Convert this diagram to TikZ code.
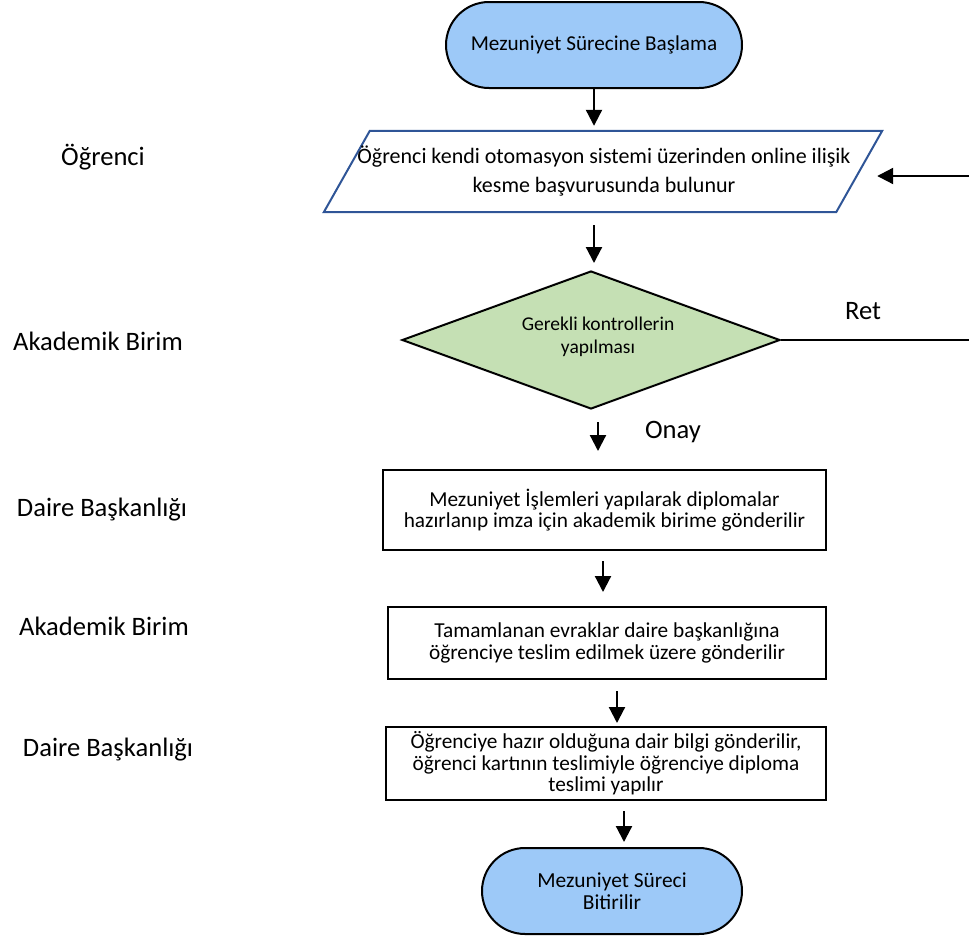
\documentclass[tikz,border=0pt]{standalone}
\usepackage{fontspec}
\setmainfont{Carlito}
\usetikzlibrary{shapes.geometric,arrows.meta,calc}
\definecolor{termblue}{RGB}{157,201,248}
\definecolor{decgreen}{RGB}{197,224,180}
\definecolor{parablue}{RGB}{47,85,151}
\tikzset{
  lbl/.style={font=\fontsize{26.6}{31}\selectfont, inner sep=0pt},
  term/.style={draw=black, line width=2pt, fill=termblue, rectangle, rounded corners=43pt, minimum height=86pt, align=center, inner sep=0pt},
  procbox/.style={draw=black, line width=2pt, fill=white, rectangle, align=center, inner sep=0pt},
  decbox/.style={draw=black, line width=2pt, fill=decgreen, diamond, align=center, inner sep=0pt, minimum width=378pt, minimum height=138pt},
  boxtext/.style={font=\fontsize{21.3}{21.5}\selectfont},
  arr/.style={line width=2.2pt, -{Triangle[width=16pt,length=16pt]}},
  plain/.style={line width=2pt}
}
\begin{document}
\begin{tikzpicture}[x=1pt,y=-1pt]
\useasboundingbox (0,0) rectangle (969,940);
% start
\node[term, minimum width=296pt, font=\fontsize{21.2}{24}\selectfont] (start) at (594,45) {Mezuniyet Sürecine Başlama};
% parallelogram
\node[draw=none, minimum width=558pt, minimum height=81pt, inner sep=0pt] (para) at (603,171.5) {};
\draw[parablue, line width=2pt, fill=white] ($(para.north west)+(46,0)$) -- (para.north east) -- ($(para.south east)+(-46,0)$) -- (para.south west) -- cycle;
\node[align=center, font=\fontsize{22}{28.5}\selectfont] (paratext) at (604,171) {Öğrenci kendi otomasyon sistemi üzerinden online ilişik\\kesme başvurusunda bulunur};
% diamond
\node[decbox] (dia) at (591,340) {};
\node[align=center, font=\fontsize{19.5}{23}\selectfont] (diatext) at (598,337) {Gerekli kontrollerin\\yapılması};
% process boxes
\node[procbox, boxtext, minimum width=443pt, minimum height=80pt] (b1) at (604.5,510) {Mezuniyet İşlemleri yapılarak diplomalar\\hazırlanıp imza için akademik birime gönderilir};
\node[procbox, boxtext, minimum width=438pt, minimum height=72pt] (b2) at (607,643) {Tamamlanan evraklar daire başkanlığına\\öğrenciye teslim edilmek üzere gönderilir};
\node[procbox, boxtext, minimum width=440pt, minimum height=73pt] (b3) at (606,763.5) {Öğrenciye hazır olduğuna dair bilgi gönderilir,\\öğrenci kartının teslimiyle öğrenciye diploma\\teslimi yapılır};
% end
\node[term, minimum width=260pt, font=\fontsize{21.4}{21.5}\selectfont] (end) at (612,891) {Mezuniyet Süreci\\Bitirilir};
% left labels
\node[lbl] (l1) at (103,157) {Öğrenci};
\node[lbl] (l2) at (98,341) {Akademik Birim};
\node[lbl] (l3) at (102,510) {Daire Başkanlığı};
\node[lbl] (l4) at (104,626) {Akademik Birim};
\node[lbl] (l5) at (108,750) {Daire Başkanlığı};
% branch labels
\node[lbl] (ret) at (863,311) {Ret};
\node[lbl] (onay) at (673,432) {Onay};
% free ends
\coordinate (retend) at (969,340);
\coordinate (backin) at (969,176);
% connectors
\draw[arr] (start.south) -- ($(para.north)+(-9,-5)$);
\draw[arr] (backin) -- ($(para.east)+(-5,4.5)$);
\draw[arr] ($(para.south)+(-9,13)$) -- ($(dia.north)+(3,-7)$);
\draw[plain] (dia.east) -- (dia.east -| retend);
\draw[arr] ($(dia.south)+(7,12)$) -- ($(b1.north)+(-6.5,-18)$);
\draw[arr] ($(b1.south)+(-1.5,10)$) -- ($(b2.north)+(-4,-14)$);
\draw[arr] ($(b2.south)+(10,11)$) -- ($(b3.north)+(11,-3)$);
\draw[arr] ($(b3.south)+(18,10)$) -- ($(end.north)+(12,-5)$);
\end{tikzpicture}
\end{document}
